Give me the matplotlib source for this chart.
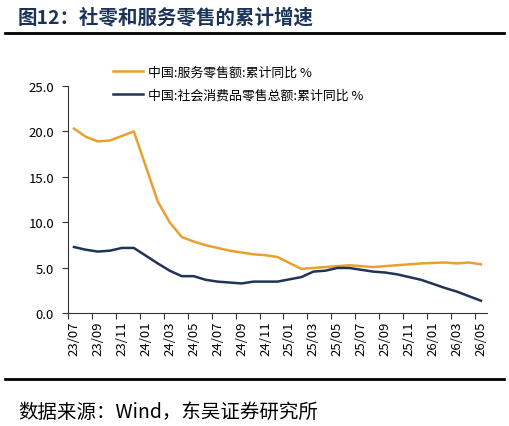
import numpy as np
import matplotlib
matplotlib.use('Agg')
import matplotlib.pyplot as plt
from matplotlib.lines import Line2D

plt.rcParams['font.family'] = ['Noto Sans CJK SC', 'DejaVu Sans']

# months 23/07 .. 26/05, January values are not published (None)
months = ['23/07', '23/08', '23/09', '23/10', '23/11', '23/12',
          '24/01', '24/02', '24/03', '24/04', '24/05', '24/06',
          '24/07', '24/08', '24/09', '24/10', '24/11', '24/12',
          '25/01', '25/02', '25/03', '25/04', '25/05', '25/06',
          '25/07', '25/08', '25/09', '25/10', '25/11', '25/12',
          '26/01', '26/02', '26/03', '26/04', '26/05']
service = [20.3, 19.4, 18.9, 19.0, 19.5, 20.0,
           None, 12.3, 10.0, 8.4, 7.9, 7.5,
           7.2, 6.9, 6.7, 6.5, 6.4, 6.2,
           None, 4.9, 5.0, 5.1, 5.2, 5.3,
           5.2, 5.1, 5.2, 5.3, 5.4, 5.5,
           None, 5.6, 5.5, 5.6, 5.4]
retail = [7.3, 7.0, 6.8, 6.9, 7.2, 7.2,
          None, 5.5, 4.7, 4.1, 4.1, 3.7,
          3.5, 3.4, 3.3, 3.5, 3.5, 3.5,
          None, 4.0, 4.6, 4.7, 5.0, 5.0,
          4.8, 4.6, 4.5, 4.3, 4.0, 3.7,
          None, 2.8, 2.4, 1.9, 1.4]
names = ['中国:服务零售额:累计同比 %', '中国:社会消费品零售总额:累计同比 %']
c_orange = '#E9A02E'
c_navy = '#1F3459'

fig = plt.figure(figsize=(5.09, 4.27), dpi=100)
ax = fig.add_axes([0.1336, 0.2635, 0.823, 0.533])

x = np.arange(len(months))
for vals, col, nm in [(service, c_orange, names[0]), (retail, c_navy, names[1])]:
    v = np.array([np.nan if a is None else a for a in vals])
    ok = ~np.isnan(v)
    ax.plot(x[ok], v[ok], color=col, lw=1.8, label=nm)

ax.set_xlim(-0.5, len(months) - 0.5)
ax.set_ylim(0, 25)
ax.set_yticks(np.arange(0, 25.1, 5))
ax.set_yticklabels(['%.1f' % t for t in np.arange(0, 25.1, 5)], fontsize=9.5)
ax.set_xticks(np.arange(-0.5, len(months), 2))
ax.set_xticklabels([])
ax.set_xticks(x[::2], minor=True)
ax.set_xticklabels(months[::2], minor=True, rotation=90, fontsize=9.5)
ax.tick_params(axis='x', which='minor', length=0, pad=5)
ax.tick_params(axis='y', which='major', pad=6)
ax.tick_params(axis='both', which='major', direction='out', length=4, width=0.8, color='#333333')
for s in ['top', 'right']:
    ax.spines[s].set_visible(False)
for s in ['left', 'bottom']:
    ax.spines[s].set_color('#333333')
    ax.spines[s].set_linewidth(0.8)

handles = [Line2D([], [], color=c_orange, lw=1.8), Line2D([], [], color=c_navy, lw=1.8)]
ax.legend(handles, names, loc='upper left', bbox_to_anchor=(0.08, 1.14), frameon=False,
          fontsize=9.3, handlelength=2.3, handletextpad=0.4, labelspacing=0.75)

fig.text(0.035, 0.958, '图12：社零和服务零售的累计增速', fontsize=14, fontweight='bold',
         color='#1C3358', va='center')
fig.add_artist(Line2D([0.01, 0.99], [0.92, 0.92], color='black', lw=2))
fig.add_artist(Line2D([0.01, 0.99], [0.11, 0.11], color='black', lw=2))
fig.text(0.035, 0.035, '数据来源：Wind，东吴证券研究所', fontsize=14, color='black', va='center')

fig.savefig('out.png', dpi=100)
